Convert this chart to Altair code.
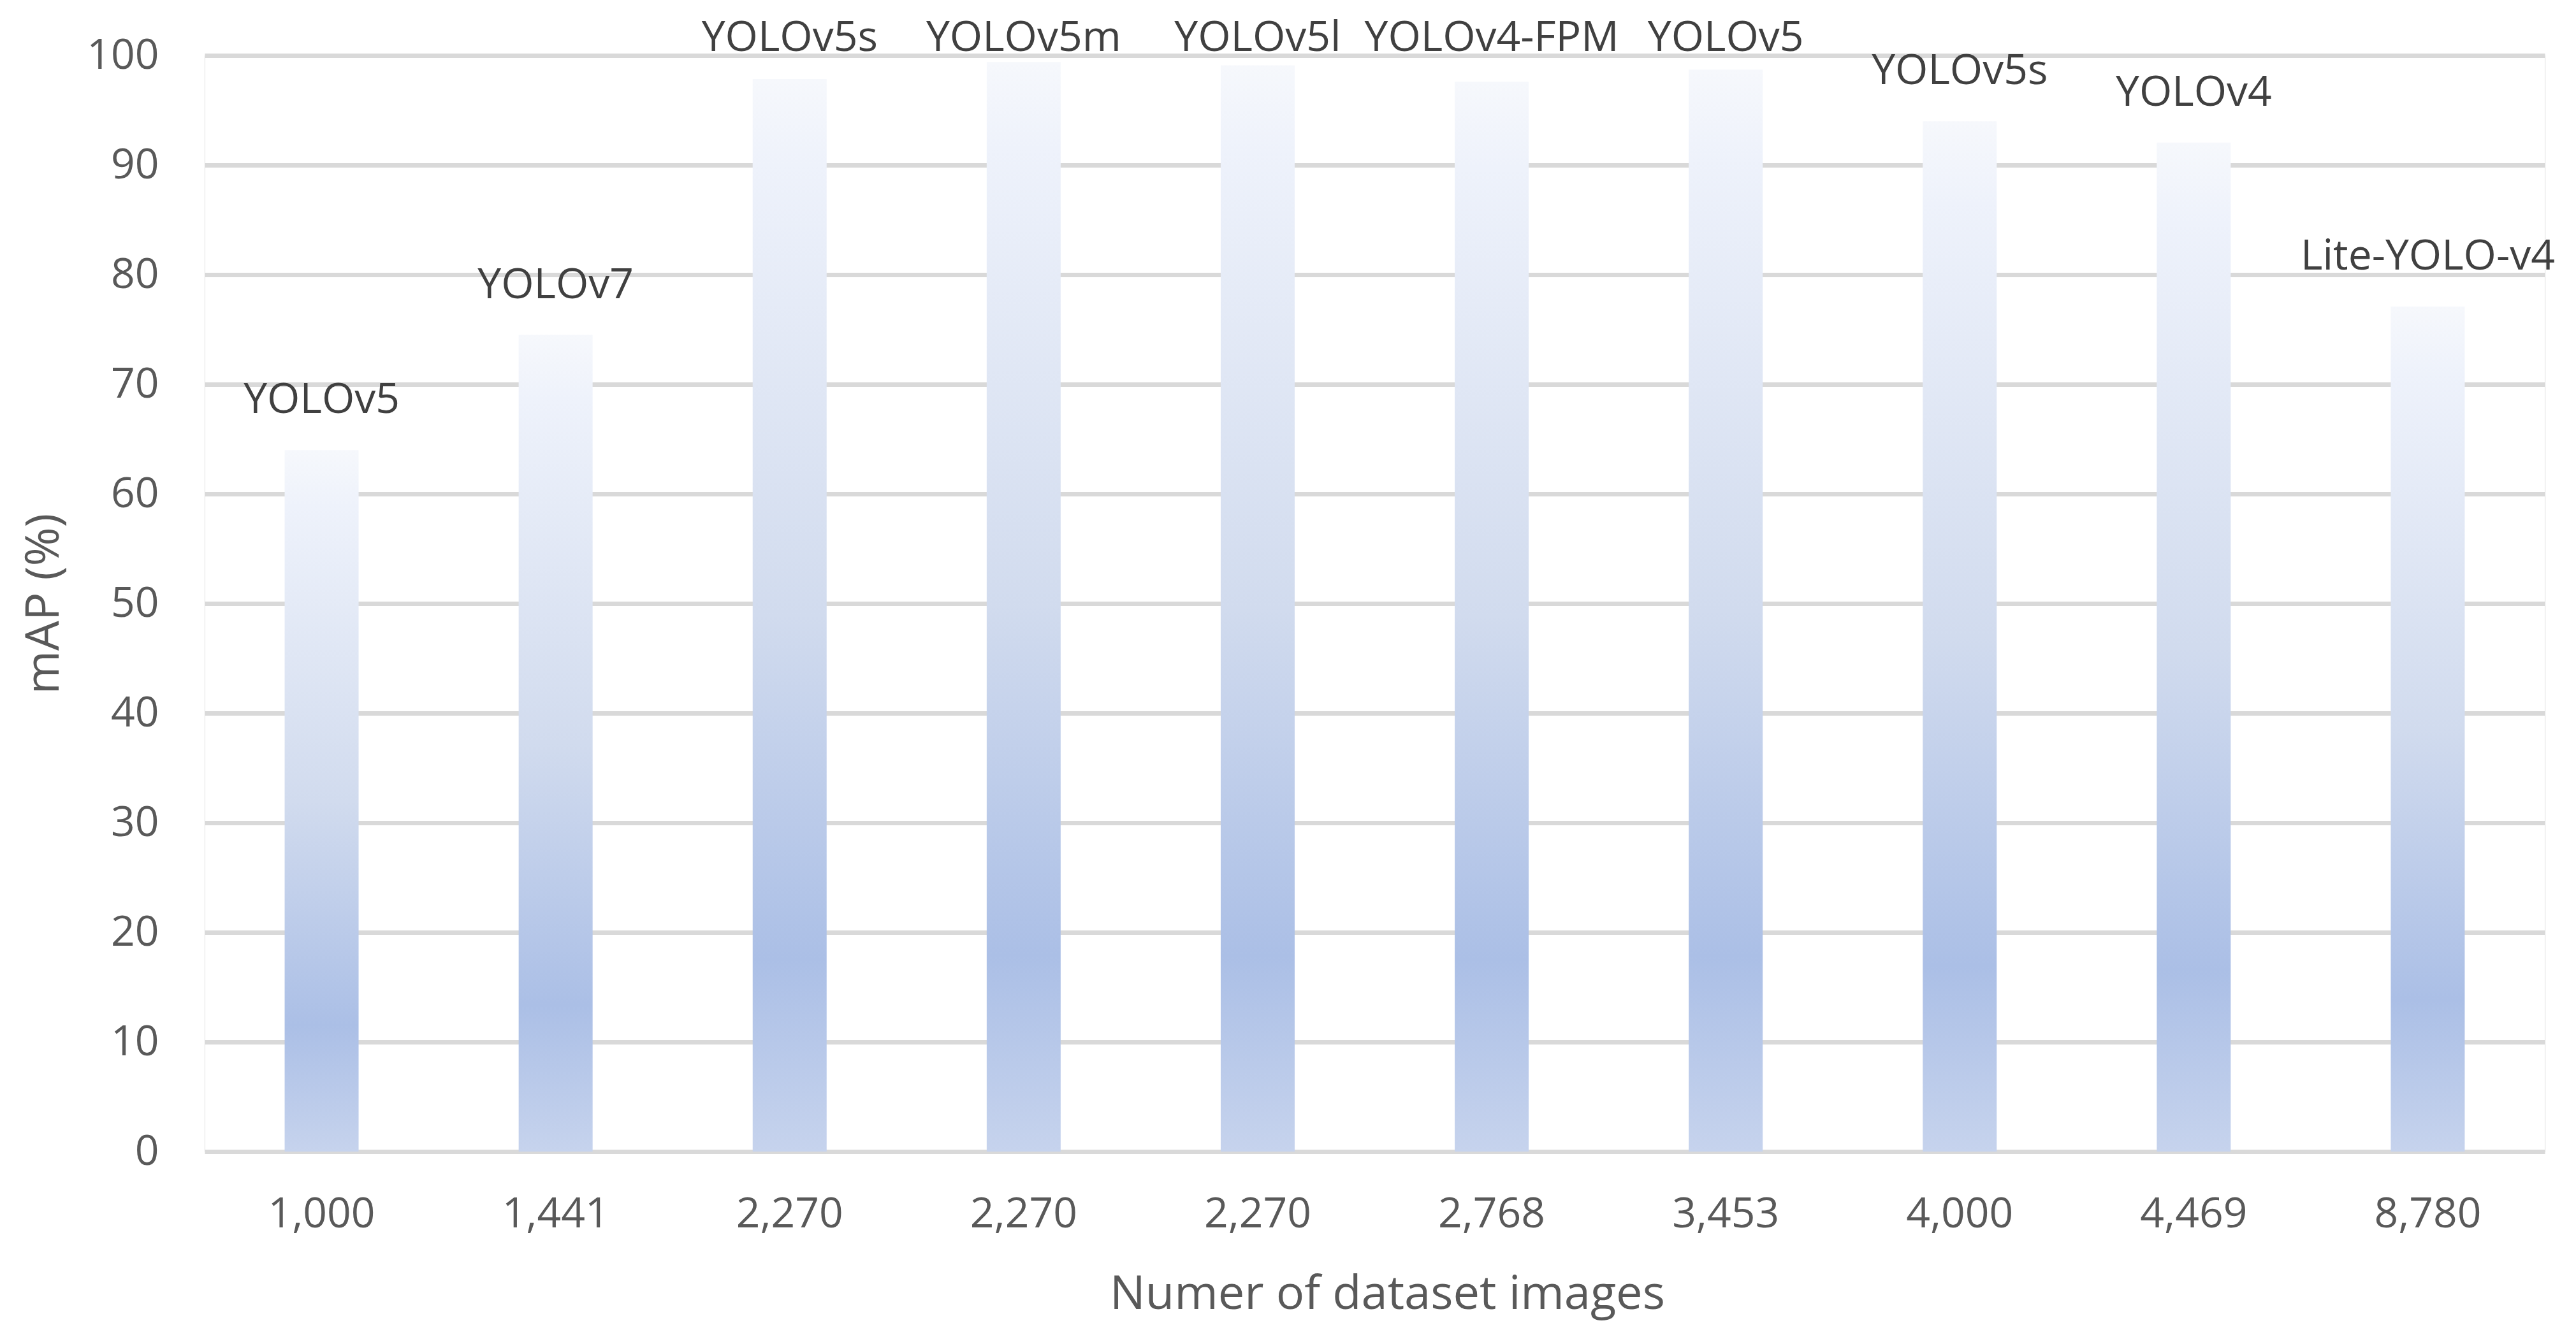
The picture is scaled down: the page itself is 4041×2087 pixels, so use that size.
import altair as alt
import pandas as pd

image_counts = ["1,000", "1,441", "2,270", "2,270", "2,270", "2,768", "3,453", "4,000", "4,469", "8,780"]
models = ["YOLOv5", "YOLOv7", "YOLOv5s", "YOLOv5m", "YOLOv5l", "YOLOv4-FPM", "YOLOv5", "YOLOv5s", "YOLOv4", "Lite-YOLO-v4"]
map_values = [64.0, 74.5, 97.85, 99.4, 99.1, 97.6, 98.7, 94.0, 92.05, 77.1]

df = pd.DataFrame({
    "idx": list(range(len(models))),
    "count": image_counts,
    "model": models,
    "map": map_values,
})

label_expr = "[" + ",".join("'" + s + "'" for s in image_counts) + "][datum.value]"

FONT = "Open Sans"
PLOT_W = 3671
PLOT_H = 1720

x_enc = alt.X(
    "idx:O",
    scale=alt.Scale(paddingInner=0.684, paddingOuter=0.342),
    axis=alt.Axis(
        title="Numer of dataset images",
        labelExpr=label_expr,
        labelAngle=0,
        labelFont=FONT,
        labelFontSize=66,
        labelColor="#595959",
        labelPadding=66,
        domain=False,
        ticks=False,
        grid=False,
        titleFont=FONT,
        titleFontSize=74,
        titleFontWeight="normal",
        titleColor="#595959",
        titleX=1855,
        titleY=246,
        titleBaseline="alphabetic",
        titleAlign="center",
    ),
)

gradient = alt.LinearGradient(
    gradient="linear",
    x1=0, y1=0, x2=0, y2=1,
    stops=[
        alt.GradientStop(offset=0.0, color="#f6f8fc"),
        alt.GradientStop(offset=0.08, color="#eef2fb"),
        alt.GradientStop(offset=0.5, color="#d1dbee"),
        alt.GradientStop(offset=0.82, color="#abbfe6"),
        alt.GradientStop(offset=1.0, color="#c6d3ed"),
    ],
)

bars = alt.Chart(df).mark_bar(color=gradient).encode(
    x=x_enc,
    y=alt.Y(
        "map:Q",
        scale=alt.Scale(domain=[0, 100], nice=False),
        axis=alt.Axis(
            title="mAP (%)",
            values=list(range(0, 101, 10)),
            labelFont=FONT,
            labelFontSize=66,
            labelColor="#595959",
            labelPadding=72,
            domain=False,
            ticks=False,
            grid=True,
            gridColor="#d9d9d9",
            gridWidth=7,
            titleFont=FONT,
            titleFontSize=74,
            titleFontWeight="normal",
            titleColor="#595959",
            titleAngle=270,
            titleX=-252,
            titleY=PLOT_H / 2,
            titleAlign="center",
            titleBaseline="middle",
        ),
    ),
)

labels = alt.Chart(df).transform_calculate(
    labpos="min(datum.map + 3.37, 100.4)"
).mark_text(
    font=FONT, fontSize=66, color="#404040", baseline="alphabetic", align="center"
).encode(
    x=alt.X("idx:O"),
    y=alt.Y("labpos:Q"),
    text="model:N",
)

chart = (bars + labels).properties(
    width=PLOT_W,
    height=PLOT_H,
    autosize=alt.AutoSizeParams(type="none"),
    padding={"left": 313, "top": 79, "right": 30, "bottom": 272},
).configure_view(stroke=None).configure(background="white")

chart.save("out.html", embed_options={"renderer": "svg", "actions": False})
